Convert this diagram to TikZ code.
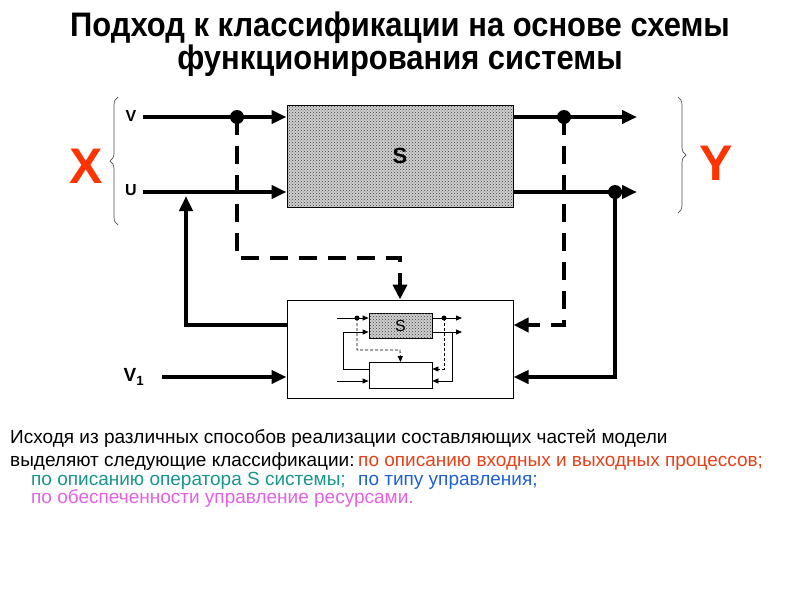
\documentclass[tikz,border=0pt]{standalone}
\usepackage{fontspec}
\setmainfont{Liberation Sans}
\newfontfamily\titlefont[FakeStretch=0.91]{Liberation Sans}
\usetikzlibrary{arrows.meta, positioning, calc, patterns, decorations.pathreplacing}
\definecolor{xred}{RGB}{255,51,0}
\definecolor{cOrange}{RGB}{232,64,24}
\definecolor{cTeal}{RGB}{24,150,140}
\definecolor{cBlue}{RGB}{30,96,220}
\definecolor{cPink}{RGB}{228,96,228}

\begin{document}
\begin{tikzpicture}[
        x=1pt, y=-1pt,
        block/.style={
            draw,
            line width=1pt,
            minimum width=226pt,
            minimum height=102pt,
            inner sep=0pt
        },
        hatched/.style={
            fill=gray!38,
            postaction={pattern=crosshatch dots, pattern color=black!75}
        },
        mini/.style={
            draw,
            line width=0.8pt,
            minimum width=63pt,
            minimum height=25pt,
            inner sep=0pt
        },
        bigdot/.style={circle, fill, inner sep=0pt, minimum size=14pt},
        minidot/.style={circle, fill, inner sep=0pt, minimum size=5pt},
        flow/.style={
            line width=4pt,
            -{Triangle[length=15pt, width=13pt]}
        },
        dflow/.style={
            line width=4pt,
            dash pattern=on 18pt off 11pt,
            -{Triangle[length=15pt, width=14pt]}
        },
        thinflow/.style={
            line width=0.8pt,
            -{Triangle[length=6pt, width=5pt]}
        },
        dthinflow/.style={
            line width=0.8pt,
            dash pattern=on 3pt off 2pt,
            -{Triangle[length=6pt, width=5pt]}
        },
        siglabel/.style={font=\bfseries\fontsize{16}{18}\selectfont},
        biglabel/.style={font=\bfseries\fontsize{50}{50}\selectfont, text=xred},
        bracket/.style={
            decorate,
            decoration={brace, amplitude=8pt},
            draw=black!70,
            line width=0.7pt
        },
        bodytext/.style={
            font=\fontsize{19}{20}\selectfont,
            anchor=base west,
            inner sep=0pt
        }
    ]
    \useasboundingbox (0,0) rectangle (800,600);

    % title
    \node[font=\titlefont\bfseries\fontsize{34}{33}\selectfont, align=center] (title) at (400,44)
        {Подход к классификации на основе схемы\\функционирования системы};

    % main system
    \node[block, hatched] (sysS) at (400,156) {\bfseries\fontsize{22}{24}\selectfont S};
    \node[block, minimum height=98pt] (ctrl) at (400,349) {};

    \node[siglabel] (vlab) at (131,116) {V};
    \node[siglabel] (ulab) at (131,190) {U};
    \node[biglabel] (xlab) at (86,166) {X};
    \node[biglabel] (ylab) at (716,163) {Y};

    \draw[bracket] (118,225) -- (118,97);
    \draw[bracket] (678,97) -- (678,213);

    \coordinate (vIn) at (143,117);
    \coordinate (uIn) at (143,192);
    \coordinate (vOut) at (637,117);
    \coordinate (uOut) at (637,192);

    \draw[flow] (vIn) -- (vIn -| sysS.west);
    \draw[flow] (uIn) -- (uIn -| sysS.west);
    \draw[flow] (vOut -| sysS.east) -- (vOut);
    \draw[flow] (uOut -| sysS.east) -- (uOut);

    \node[bigdot] (dv) at (237,117) {};
    \node[bigdot] (dvo) at (564,117) {};
    \node[bigdot] (duo) at (615,192) {};

    % measurement paths
    \coordinate (dturn) at (400,258);
    \coordinate (dturnR) at (564,325);
    \draw[dflow] (dv.center) |- (dturn) -- (ctrl.north);
    \draw[dflow] (dvo.center) -- (dturnR) -- (dturnR -| ctrl.east);

    % control and feedback
    \coordinate (fbL) at (186,325);
    \coordinate (uFb) at (186,196);
    \draw[flow, line join=miter] (fbL -| ctrl.west) -- (fbL) -- (uFb);

    \node[font=\bfseries\fontsize{19}{20}\selectfont] (v1lab) at (134,377) {V\textsubscript{1}};
    \draw[flow] (162,377) -- (v1lab -| ctrl.west);
    \draw[flow, line join=miter] (duo.center) |- (v1lab -| ctrl.east);

    % small copy of the scheme
    \node[mini, hatched] (miniS) at (400.5,325.5) {\fontsize{16}{16}\selectfont S};
    \node[mini, minimum height=26pt] (miniC) at (400.5,375.5) {};

    \coordinate (mi1) at (337,318);
    \coordinate (mi2) at (343,332);
    \coordinate (mi3) at (337,381);
    \coordinate (mf) at (343,369);
    \coordinate (mo1) at (462,318);
    \coordinate (mo2) at (462,332);
    \coordinate (mdt) at (400,350);
    \coordinate (mdr) at (444,369);
    \coordinate (mfr) at (452,381);
    \node[minidot] (md1) at (357,318) {};
    \node[minidot] (md2) at (444,318) {};

    \draw[thinflow] (mi1) -- (mi1 -| miniS.west);
    \draw[thinflow] (mf -| miniC.west) -- (mf) -- (mi2) -- (mi2 -| miniS.west);
    \draw[thinflow] (mi3) -- (mi3 -| miniC.west);
    \draw[thinflow] (mo1 -| miniS.east) -- (mo1);
    \draw[thinflow] (mo2 -| miniS.east) -- (mo2);
    \draw[dthinflow] (md1.center) |- (mdt) -- (miniC.north);
    \draw[dthinflow] (md2.center) -- (mdr) -- (mdr -| miniC.east);
    \draw[thinflow] (mfr |- mo2) -- (mfr) -- (mfr -| miniC.east);

    % text below
    \node[bodytext] (t1) at (10,443) {Исходя из различных способов реализации составляющих частей модели};
    \node[bodytext] (t2) at (10,466) {выделяют следующие классификации:};
    \node[bodytext, text=cOrange] (t2b) at (358,466) {по описанию входных и выходных процессов;};
    \node[bodytext, text=cTeal] (t3) at (31,485) {по описанию оператора S системы;};
    \node[bodytext, text=cBlue] (t3b) at (358,485) {по типу управления;};
    \node[bodytext, text=cPink] (t4) at (31,503) {по обеспеченности управление ресурсами.};

\end{tikzpicture}
\end{document}
